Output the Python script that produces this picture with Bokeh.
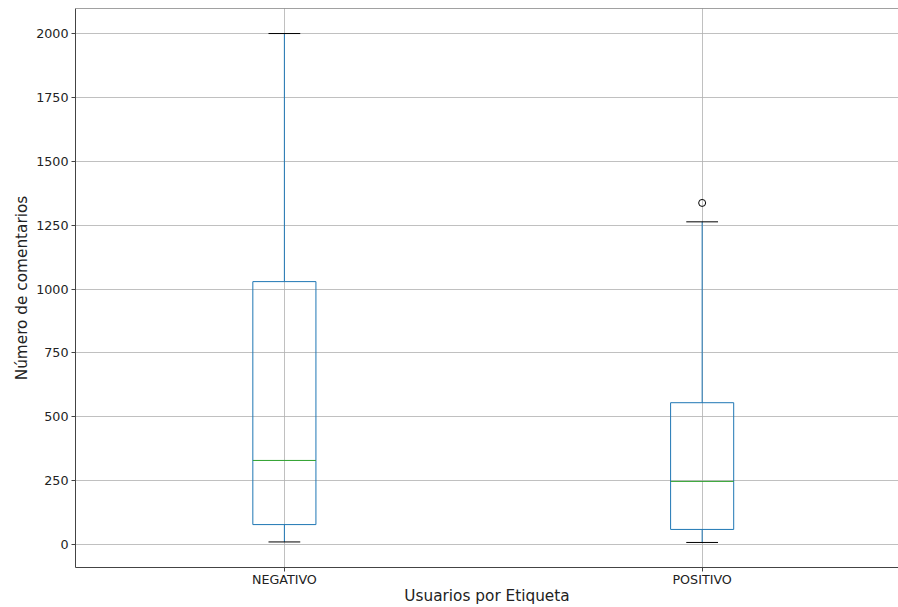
from bokeh.plotting import figure
from bokeh.models import Range1d, FixedTicker, Span
from bokeh.embed import file_html
from bokeh.resources import INLINE

categories = ["NEGATIVO", "POSITIVO"]
positions = [1, 2]
whisker_low = [10, 8]
q1 = [78, 59]
median = [329, 247]
q3 = [1029, 555]
whisker_high = [2000, 1263]
outlier_pos = [2]
outlier_val = [1337]
y_ticks = [0, 250, 500, 750, 1000, 1250, 1500, 1750, 2000]

box_w = 0.151
cap_w = 0.076
y_top = 2098

p = figure(width=898, height=607, output_backend="svg", toolbar_location=None,
           x_range=Range1d(0.5, 2.47), y_range=Range1d(-90, y_top),
           min_border_left=75, min_border_right=0, min_border_top=8, min_border_bottom=40)

p.background_fill_color = "white"
p.outline_line_color = None

for g in (p.xgrid, p.ygrid):
    g.grid_line_color = "#b0b0b0"
    g.grid_line_width = 1
    g.grid_line_alpha = 0.8

p.xaxis.ticker = FixedTicker(ticks=positions)
p.xaxis.major_label_overrides = {pos: c for pos, c in zip(positions, categories)}
p.yaxis.ticker = FixedTicker(ticks=y_ticks)

for ax in (p.xaxis[0], p.yaxis[0]):
    ax.axis_line_color = "#444444"
    ax.major_tick_line_color = "#444444"
    ax.major_tick_out = 4
    ax.major_tick_in = 0
    ax.minor_tick_line_color = None
    ax.major_label_text_font = "DejaVu Sans"
    ax.major_label_text_font_size = "12.7px"
    ax.major_label_text_color = "#222222"
    ax.axis_label_text_font = "DejaVu Sans"
    ax.axis_label_text_font_size = "15.3px"
    ax.axis_label_text_font_style = "normal"
    ax.axis_label_text_color = "#222222"

p.xaxis.axis_label = "Usuarios por Etiqueta"
p.yaxis.axis_label = "Número de comentarios"
p.xaxis.major_label_standoff = 0
p.xaxis.axis_label_standoff = -3
p.yaxis.major_label_standoff = 3
p.yaxis.axis_label_standoff = 2

# top spine
p.add_layout(Span(location=y_top, dimension="width", line_color="#444444", line_width=1))

p.segment(x0=positions, y0=q3, x1=positions, y1=whisker_high, line_color="#1f77b4", line_width=1)
p.segment(x0=positions, y0=whisker_low, x1=positions, y1=q1, line_color="#1f77b4", line_width=1)
p.segment(x0=[x - cap_w / 2 for x in positions], y0=whisker_high,
          x1=[x + cap_w / 2 for x in positions], y1=whisker_high, line_color="black", line_width=1)
p.segment(x0=[x - cap_w / 2 for x in positions], y0=whisker_low,
          x1=[x + cap_w / 2 for x in positions], y1=whisker_low, line_color="black", line_width=1)
p.quad(left=[x - box_w / 2 for x in positions], right=[x + box_w / 2 for x in positions],
       bottom=q1, top=q3, fill_color=None, line_color="#1f77b4", line_width=1)
p.segment(x0=[x - box_w / 2 for x in positions], y0=median,
          x1=[x + box_w / 2 for x in positions], y1=median, line_color="#2ca02c", line_width=1)
p.scatter(x=outlier_pos, y=outlier_val, size=7, marker="circle",
          fill_color=None, line_color="black", line_width=1)

open("out.html", "w").write(file_html(p, INLINE))
